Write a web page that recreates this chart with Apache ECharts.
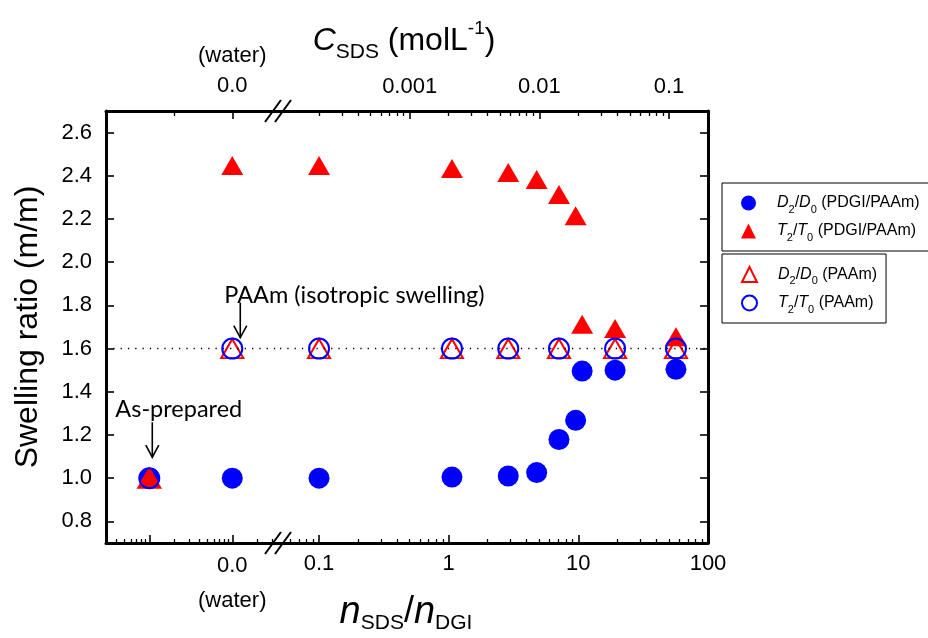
<!DOCTYPE html>
<html><head><meta charset="utf-8">
<script src="https://cdn.jsdelivr.net/npm/echarts@6/dist/echarts.min.js"></script>
<style>html,body{margin:0;padding:0;background:#fff}#c{width:928px;height:638px}</style>
</head><body><div id="c"></div>
<script>
// ---------------- data ----------------
// right segment: n_SDS / n_DGI (log scale)
const nSDS = [0.1, 1.06, 2.88, 4.77, 7.09, 9.53, 10.7, 19.2, 56.6];
// left segment (before the axis break): reference states
const refStates = ['As-prepared', 'Water'];
const refStateAxisValue = [1, 10];          // placeholder positions on the left (broken) log axis
const d2d0Gel    = [1.0, 1.005, 1.01, 1.026, 1.179, 1.268, 1.496, 1.50, 1.504];
const d2d0GelRef = [1.0, 1.0];
const t2t0Gel    = [2.448, 2.434, 2.415, 2.383, 2.313, 2.215, 1.713, 1.693, 1.655];
const t2t0GelRef = [1.0, 2.448];
const d2d0PAAm    = [1.6, 1.6, 1.6, null, 1.6, null, null, 1.6, 1.6];
const d2d0PAAmRef = [1.0, 1.6];
const t2t0PAAm    = [1.6, 1.6, 1.6, null, 1.6, null, null, 1.6, 1.6];
const t2t0PAAmRef = [1.0, 1.6];
const isotropicRatio = 1.6;
const cPerN = 0.002;                        // C_SDS (mol/L) = cPerN * n_SDS/n_DGI

const yTicks = [0.8, 1.0, 1.2, 1.4, 1.6, 1.8, 2.0, 2.2, 2.4, 2.6];
const nMajor = [0.1, 1, 10, 100];
const nMajorLabels = ['0.1', '1', '10', '100'];
const cMajor = [0.001, 0.01, 0.1];
const cMajorLabels = ['0.001', '0.01', '0.1'];
const leftBottomMajor = [1, 10];
const leftBottomLabels = ['', '0.0\n(water)'];
const leftTopMajor = [10];
const leftTopLabels = ['{w|(water)}\n0.0'];
const leftTopMinor = [2];

function logMinor(lo, hi) {
  const out = [];
  for (let d = Math.floor(Math.log10(lo)) - 1; d <= Math.ceil(Math.log10(hi)); d++) {
    for (let k = 2; k <= 9; k++) {
      const v = k * Math.pow(10, d);
      if (v > lo * 1.001 && v < hi * 0.999) out.push(+v.toPrecision(6));
    }
  }
  return out;
}

// ---------------- layout ----------------
const FONT = '"Liberation Sans", Arial, sans-serif';
const BLUE = '#0000ff', RED = '#ff0000';
const leftMin = 0.3008, leftMax = 37.6;
const nMin = 0.05, nMax = 100;

function labelFor(ticks, labels) {
  return function (v) {
    const i = ticks.findIndex(t => Math.abs(Math.log10(t) - Math.log10(v)) < 1e-4);
    return i >= 0 ? labels[i] : '';
  };
}

function xAxisDef(o) {
  return {
    type: 'log', logBase: 10, gridIndex: o.grid, position: o.pos,
    min: o.min, max: o.max,
    splitLine: {show: false}, minorTick: {show: false}, minorSplitLine: {show: false},
    axisLine: {show: o.line, onZero: false, lineStyle: {color: '#000', width: 3}},
    axisTick: {show: true, inside: true, length: o.len, customValues: o.ticks,
               lineStyle: {color: '#000', width: o.len > 5 ? 1.6 : 1.3}},
    axisLabel: o.labels ? {
      show: true, customValues: o.labelTicks, formatter: labelFor(o.labelTicks, o.labels),
      fontFamily: FONT, fontSize: 22, color: '#000', margin: o.margin || 10,
      lineHeight: o.lh || 26, rich: o.rich
    } : {show: false},
    silent: true
  };
}

const xAxes = [
  xAxisDef({grid: 0, pos: 'bottom', min: leftMin, max: leftMax, line: true, len: 8,
            ticks: leftBottomMajor, labelTicks: leftBottomMajor, labels: leftBottomLabels, lh: 35, margin: 5}),
  xAxisDef({grid: 0, pos: 'bottom', min: leftMin, max: leftMax, line: false, len: 4,
            ticks: logMinor(leftMin, leftMax)}),
  xAxisDef({grid: 0, pos: 'top', min: leftMin, max: leftMax, line: true, len: 8,
            ticks: leftTopMajor, labelTicks: leftTopMajor, labels: leftTopLabels, lh: 30, margin: 10,
            rich: {w: {fontFamily: FONT, fontSize: 22, lineHeight: 30, color: '#000'}}}),
  xAxisDef({grid: 0, pos: 'top', min: leftMin, max: leftMax, line: false, len: 5,
            ticks: leftTopMinor}),
  xAxisDef({grid: 1, pos: 'bottom', min: nMin, max: nMax, line: true, len: 8,
            ticks: nMajor, labelTicks: nMajor, labels: nMajorLabels, margin: 8}),
  xAxisDef({grid: 1, pos: 'bottom', min: nMin, max: nMax, line: false, len: 4,
            ticks: logMinor(nMin, nMax)}),
  xAxisDef({grid: 1, pos: 'top', min: nMin * cPerN, max: nMax * cPerN, line: true, len: 8,
            ticks: cMajor, labelTicks: cMajor, labels: cMajorLabels, margin: 11}),
  xAxisDef({grid: 1, pos: 'top', min: nMin * cPerN, max: nMax * cPerN, line: false, len: 5,
            ticks: logMinor(nMin * cPerN, nMax * cPerN)})
];

const yAxes = [
  {type: 'value', gridIndex: 0, position: 'left', min: 0.7, max: 2.7,
   splitLine: {show: false},
   axisLine: {show: true, onZero: false, lineStyle: {color: '#000', width: 3}},
   axisTick: {show: true, inside: true, length: 8, customValues: yTicks, lineStyle: {color: '#000', width: 1.6}},
   axisLabel: {show: true, customValues: yTicks, formatter: v => (+v).toFixed(1),
               fontFamily: FONT, fontSize: 22, color: '#000', margin: 14},
   name: 'Swelling ratio (m/m)', nameLocation: 'middle', nameGap: 62,
   nameTextStyle: {fontFamily: FONT, fontSize: 32, color: '#000'}},
  {type: 'value', gridIndex: 1, position: 'right', min: 0.7, max: 2.7,
   splitLine: {show: false},
   axisLine: {show: true, onZero: false, lineStyle: {color: '#000', width: 3}},
   axisTick: {show: true, inside: true, length: 8, customValues: yTicks, lineStyle: {color: '#000', width: 1.6}},
   axisLabel: {show: false}}
];

const styles = {
  'D2/D0 (PDGI/PAAm)': {symbol: 'circle', symbolSize: 21, itemStyle: {color: BLUE, opacity: 1}},
  'T2/T0 (PDGI/PAAm)': {symbol: 'triangle', symbolSize: [22, 19], itemStyle: {color: RED, opacity: 1}},
  'D2/D0 (PAAm)': {symbol: 'triangle', symbolSize: [22, 19],
                   itemStyle: {color: 'rgba(255,255,255,0)', borderColor: RED, borderWidth: 2, opacity: 1}},
  'T2/T0 (PAAm)': {symbol: 'circle', symbolSize: 20,
                   itemStyle: {color: 'rgba(255,255,255,0)', borderColor: BLUE, borderWidth: 2, opacity: 1}}
};

const seriesSrc = [
  ['D2/D0 (PDGI/PAAm)', d2d0GelRef, d2d0Gel],
  ['T2/T0 (PDGI/PAAm)', t2t0GelRef, t2t0Gel],
  ['D2/D0 (PAAm)', d2d0PAAmRef, d2d0PAAm],
  ['T2/T0 (PAAm)', t2t0PAAmRef, t2t0PAAm]
];

const series = [];
seriesSrc.forEach(([name, refY, y], si) => {
  const base = Object.assign({type: 'scatter', name: name, animation: false, silent: true,
                              emphasis: {disabled: true}}, styles[name]);
  const withLine = si === 2;
  const ml = withLine ? {silent: true, symbol: ['none', 'none'], label: {show: false},
                         lineStyle: {color: '#000', width: 1.3, type: [1.3, 6]},
                         data: [{yAxis: isotropicRatio}], animation: false} : undefined;
  series.push(Object.assign({}, base, {xAxisIndex: 0, yAxisIndex: 0, z: 2 + si,
    data: refStateAxisValue.map((x, i) => [x, refY[i]]).filter(d => d[1] != null), markLine: ml}));
  series.push(Object.assign({}, base, {xAxisIndex: 4, yAxisIndex: 1, z: 2 + si,
    data: nSDS.map((x, i) => [x, y[i]]).filter(d => d[1] != null), markLine: ml}));
});

const legendRich = {
  p: {width: 16, fontSize: 16, lineHeight: 24},
  i: {fontFamily: FONT, fontSize: 16, fontStyle: 'italic', color: '#000', lineHeight: 24, verticalAlign: 'middle'},
  t: {fontFamily: FONT, fontSize: 16, color: '#000', lineHeight: 24, verticalAlign: 'middle'},
  s: {fontFamily: FONT, fontSize: 11, color: '#000', lineHeight: 14, verticalAlign: 'bottom'}
};
function legendText(name) {
  const m = name.match(/^([DT])2\/([DT])0 (.*)$/);
  return '{p| }{i|' + m[1] + '}{s|2}{t|/}{i|' + m[2] + '}{s|0}{t| ' + m[3] + '}';
}

const chart = echarts.init(document.getElementById('c'), null, {renderer: 'canvas'});
chart.setOption({
  animation: false,
  backgroundColor: '#fff',
  grid: [
    {left: 106, top: 111, width: 174, height: 432, containLabel: false, outerBoundsMode: 'none'},
    {left: 280, top: 111, width: 428, height: 432, containLabel: false, outerBoundsMode: 'none'}
  ],
  xAxis: xAxes,
  yAxis: yAxes,
  legend: [
    {data: ['D2/D0 (PDGI/PAAm)', 'T2/T0 (PDGI/PAAm)'], orient: 'vertical', left: 722, top: 183,
     padding: [12, 30, 8, 19], itemGap: 8, itemWidth: 15, itemHeight: 15,
     borderColor: '#000', borderWidth: 1, selectedMode: false, formatter: legendText,
     textStyle: {rich: legendRich}},
    {data: ['D2/D0 (PAAm)', 'T2/T0 (PAAm)'], orient: 'vertical', left: 722, top: 254,
     padding: [12, 9, 8, 19], itemGap: 8, itemWidth: 15, itemHeight: 15,
     borderColor: '#000', borderWidth: 1, selectedMode: false, formatter: legendText,
     textStyle: {rich: legendRich}}
  ],
  series: series
});

// ---------- annotations (positions derived from the axes) ----------
const water = chart.convertToPixel({xAxisIndex: 0, yAxisIndex: 0}, [refStateAxisValue[1], isotropicRatio]);
const asPrep = chart.convertToPixel({xAxisIndex: 0, yAxisIndex: 0}, [refStateAxisValue[0], 1.0]);
const bx = chart.convertToPixel({xAxisIndex: 4}, nMin);
const yTop = chart.convertToPixel({yAxisIndex: 0}, 2.7);
const yBot = chart.convertToPixel({yAxisIndex: 0}, 0.7);

function arrow(x, y1, y2) {
  return [
    {type: 'line', shape: {x1: x, y1: y1, x2: x, y2: y2}, style: {stroke: '#000', lineWidth: 1.6}, z: 50},
    {type: 'polyline', shape: {points: [[x - 6.5, y2 - 12], [x, y2], [x + 6.5, y2 - 12]]},
     style: {stroke: '#000', lineWidth: 1.6, fill: null}, z: 50}
  ];
}
function breakMark(x, y) {
  const out = [];
  [-5, 5].forEach(dx => out.push({type: 'line',
    shape: {x1: x + dx - 8, y1: y + 11, x2: x + dx + 8, y2: y - 11},
    style: {stroke: '#000', lineWidth: 2}, z: 60}));
  return out;
}
const annFont = 'Lato, "Open Sans", sans-serif';
chart.setOption({
  graphic: [].concat(
    arrow(water[0] + 8, water[1] - 46, water[1] - 11),
    arrow(asPrep[0] + 3, asPrep[1] - 56, asPrep[1] - 21),
    breakMark(bx - 2, yTop),
    breakMark(bx - 2, yBot),
    [
      {type: 'text', x: water[0] - 8, y: water[1] - 53, z: 50,
       style: {text: 'PAAm (isotropic swelling)', fontFamily: annFont, fontSize: 23.5, fill: '#000',
               align: 'left', verticalAlign: 'middle'}},
      {type: 'text', x: asPrep[0] - 34, y: asPrep[1] - 69, z: 50,
       style: {text: 'As-prepared', fontFamily: annFont, fontSize: 23.5, fill: '#000',
               align: 'left', verticalAlign: 'middle'}},
      {type: 'text', x: 404, y: 41, z: 50,
       style: {text: '{c|C}{sub|SDS}{b| (molL}{sup|-1}{b|)}', align: 'center', verticalAlign: 'middle',
               rich: {
                 c: {fontFamily: FONT, fontSize: 32, fontStyle: 'italic', lineHeight: 44, verticalAlign: 'middle', fill: '#000'},
                 b: {fontFamily: FONT, fontSize: 32, lineHeight: 44, verticalAlign: 'middle', fill: '#000'},
                 sub: {fontFamily: FONT, fontSize: 21, lineHeight: 20, verticalAlign: 'bottom', fill: '#000'},
                 sup: {fontFamily: FONT, fontSize: 19, lineHeight: 20, verticalAlign: 'top', fill: '#000'}
               }}},
      {type: 'text', x: 406, y: 612, z: 50,
       style: {text: '{n|n}{sub|SDS}{b|/}{n|n}{sub|DGI}', align: 'center', verticalAlign: 'middle',
               rich: {
                 n: {fontFamily: FONT, fontSize: 38, fontStyle: 'italic', lineHeight: 44, verticalAlign: 'middle', fill: '#000'},
                 b: {fontFamily: FONT, fontSize: 36, lineHeight: 44, verticalAlign: 'middle', fill: '#000'},
                 sub: {fontFamily: FONT, fontSize: 21, lineHeight: 18, verticalAlign: 'bottom', fill: '#000'}
               }}}
    ]
  )
});
</script>
</body></html>
